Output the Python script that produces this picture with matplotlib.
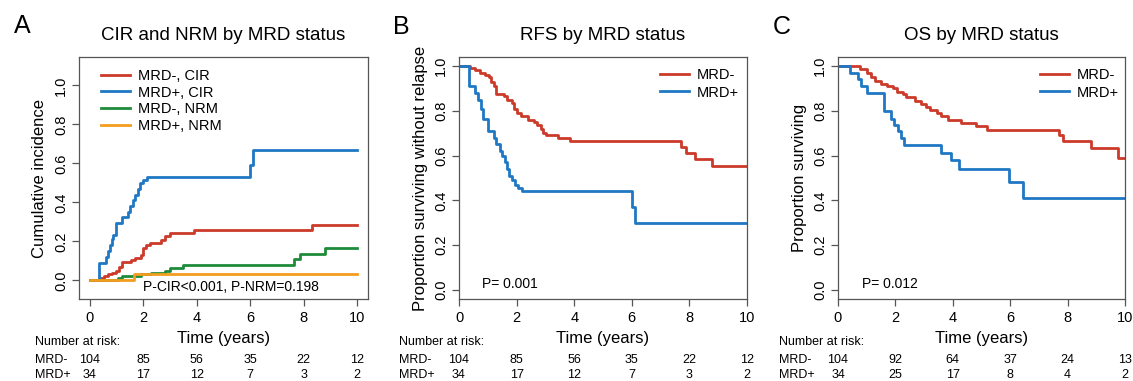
import numpy as np
import matplotlib
matplotlib.use("Agg")
import matplotlib.pyplot as plt
import matplotlib.transforms as mtransforms

plt.rcParams['font.family'] = ['Liberation Sans', 'DejaVu Sans']

# --- data ---
years = [0, 2, 4, 6, 8, 10]

# panel A: cumulative incidence
cir_neg_t = [0, 0.38, 0.55, 0.7, 0.85, 1.0, 1.1, 1.2, 1.55, 1.7, 1.9, 2.0, 2.1, 2.25, 2.65, 2.8, 3.0, 3.9, 8.3, 10]
cir_neg_y = [0, 0.01, 0.02, 0.03, 0.04, 0.05, 0.07, 0.095, 0.105, 0.115, 0.13, 0.165, 0.18, 0.19, 0.205, 0.225, 0.245, 0.26, 0.285, 0.285]
cir_pos_t = [0, 0.34, 0.6, 0.69, 0.75, 0.82, 0.88, 1.0, 1.2, 1.43, 1.52, 1.6, 1.7, 1.79, 1.88, 1.98, 2.15, 6.0, 6.12, 10]
cir_pos_y = [0, 0.09, 0.12, 0.15, 0.18, 0.21, 0.235, 0.295, 0.323, 0.35, 0.38, 0.41, 0.44, 0.47, 0.50, 0.515, 0.53, 0.59, 0.667, 0.667]
nrm_neg_t = [0, 1.05, 1.2, 1.9, 2.3, 2.8, 3.0, 3.5, 7.65, 7.85, 8.8, 10]
nrm_neg_y = [0, 0.01, 0.02, 0.03, 0.04, 0.05, 0.065, 0.077, 0.107, 0.135, 0.165, 0.165]
nrm_pos_t = [0, 1.65, 10]
nrm_pos_y = [0, 0.03, 0.03]

# panel B: relapse-free survival
rfs_neg_t = [0, 0.38, 0.55, 0.72, 0.9, 1.03, 1.12, 1.2, 1.27, 1.55, 1.68, 1.85, 1.92, 2.0, 2.15, 2.4, 2.6,
             2.72, 2.85, 2.92, 3.02, 3.45, 3.85, 7.7, 7.88, 8.2, 8.8, 10]
rfs_neg_s = [1, 0.99, 0.98, 0.97, 0.96, 0.95, 0.93, 0.91, 0.875, 0.865, 0.85, 0.835, 0.81, 0.79, 0.775, 0.76, 0.75,
             0.735, 0.72, 0.70, 0.69, 0.678, 0.665, 0.64, 0.61, 0.585, 0.553, 0.553]
rfs_pos_t = [0, 0.33, 0.55, 0.65, 0.75, 0.85, 1.0, 1.2, 1.3, 1.42, 1.5, 1.58, 1.66, 1.75, 1.85, 1.95, 2.05, 2.18, 6.0, 6.1, 10]
rfs_pos_s = [1, 0.91, 0.88, 0.85, 0.81, 0.765, 0.71, 0.68, 0.65, 0.62, 0.60, 0.57, 0.54, 0.51, 0.49, 0.47, 0.455, 0.44, 0.37, 0.30, 0.30]

# panel C: overall survival
os_neg_t = [0, 0.78, 1.0, 1.14, 1.3, 1.5, 1.72, 1.9, 2.07, 2.25, 2.36, 2.7, 2.88, 3.05, 3.2, 3.45, 3.6, 3.85,
            4.3, 4.8, 5.2, 7.7, 7.85, 8.8, 9.75, 10]
os_neg_s = [1, 0.985, 0.97, 0.95, 0.935, 0.92, 0.91, 0.90, 0.885, 0.875, 0.86, 0.845, 0.83, 0.815, 0.805, 0.79, 0.775, 0.76,
            0.745, 0.733, 0.715, 0.69, 0.665, 0.633, 0.588, 0.588]
os_pos_t = [0, 0.42, 0.68, 0.8, 1.0, 1.6, 1.85, 1.95, 2.1, 2.2, 2.3, 3.6, 3.95, 4.2, 5.95, 6.45, 10]
os_pos_s = [1, 0.97, 0.94, 0.91, 0.88, 0.80, 0.765, 0.735, 0.71, 0.68, 0.647, 0.61, 0.58, 0.54, 0.48, 0.41, 0.41]

risk_neg_a = [104, 85, 56, 35, 22, 12]
risk_pos_a = [34, 17, 12, 7, 3, 2]
risk_neg_b = [104, 85, 56, 35, 22, 12]
risk_pos_b = [34, 17, 12, 7, 3, 2]
risk_neg_c = [104, 92, 64, 37, 24, 13]
risk_pos_c = [34, 25, 17, 8, 4, 2]

RED = '#CC3A2A'
BLUE = '#1F78C4'
GREEN = '#1E8B3A'
ORANGE = '#F39C1E'
FRAME = '#555555'
NARROW = ['Liberation Sans Narrow', 'Liberation Sans', 'DejaVu Sans']

W, H = 1133, 381
fig = plt.figure(figsize=(W / 100, H / 100), dpi=100)


def px_axes(left, right, top, bottom):
    return fig.add_axes([left / W, (H - bottom) / H, (right - left) / W, (bottom - top) / H])


def style(ax, ylabel):
    for s in ax.spines.values():
        s.set_color(FRAME)
        s.set_linewidth(0.9)
    ax.set_xticks(years)
    ax.set_yticks([0, 0.2, 0.4, 0.6, 0.8, 1.0])
    ax.set_yticklabels(['0.0', '0.2', '0.4', '0.6', '0.8', '1.0'], rotation=90, va='center')
    ax.tick_params(direction='out', length=5, width=0.9, color=FRAME, labelsize=10.5, pad=4)
    ax.tick_params(axis='y', pad=3)
    ax.text(-0.135, 0.5, ylabel, transform=ax.transAxes, rotation=90,
            ha='center', va='center', fontsize=12)


def risk_table(ax, x0, neg, pos):
    trans = mtransforms.blended_transform_factory(ax.transData, fig.transFigure)
    fig.text(x0 / W, 1 - 342 / H, 'Number at risk:', fontsize=9, va='center', family=NARROW)
    fig.text(x0 / W, 1 - 360 / H, 'MRD-', fontsize=9, va='center', family=NARROW)
    fig.text(x0 / W, 1 - 375 / H, 'MRD+', fontsize=9, va='center', family=NARROW)
    for yr, a, b in zip(years, neg, pos):
        ax.text(yr, 1 - 360 / H, str(a), transform=trans, fontsize=9, ha='center', va='center', family=NARROW)
        ax.text(yr, 1 - 375 / H, str(b), transform=trans, fontsize=9, ha='center', va='center', family=NARROW)
    ax.text(0.5, 1 - 338 / H, 'Time (years)', transform=mtransforms.blended_transform_factory(ax.transAxes, fig.transFigure),
            fontsize=12, ha='center', va='center')


lw = 2.0

# Panel A
axA = px_axes(79, 368, 57, 299)
axA.step(cir_neg_t, cir_neg_y, where='post', color=RED, lw=lw, label='MRD-, CIR')
axA.step(cir_pos_t, cir_pos_y, where='post', color=BLUE, lw=lw, label='MRD+, CIR')
axA.step(nrm_neg_t, nrm_neg_y, where='post', color=GREEN, lw=lw, label='MRD-, NRM')
axA.step(nrm_pos_t, nrm_pos_y, where='post', color=ORANGE, lw=lw, label='MRD+, NRM')
axA.set_xlim(-0.4, 10.4)
axA.set_ylim(-0.096, 1.146)
style(axA, 'Cumulative incidence')
axA.text(0.5, 1.087, 'CIR and NRM by MRD status', transform=axA.transAxes, ha='center', va='center', fontsize=13.5)
axA.text(2.0, -0.036, 'P-CIR<0.001, P-NRM=0.198', fontsize=10, va='center')
axA.legend(loc='upper left', bbox_to_anchor=(0.076, 0.952), frameon=False, fontsize=10.5,
           handlelength=2.0, handletextpad=0.55, labelspacing=0.2, borderpad=0, borderaxespad=0)
risk_table(axA, 35, risk_neg_a, risk_pos_a)

# Panel B
axB = px_axes(459, 747, 57, 299)
axB.step(rfs_neg_t, rfs_neg_s, where='post', color=RED, lw=lw, label='MRD-')
axB.step(rfs_pos_t, rfs_pos_s, where='post', color=BLUE, lw=lw, label='MRD+')
axB.set_xlim(0, 10)
axB.set_ylim(-0.04, 1.04)
style(axB, 'Proportion surviving without relapse')
axB.text(0.5, 1.087, 'RFS by MRD status', transform=axB.transAxes, ha='center', va='center', fontsize=13.5)
axB.text(0.8, 0.027, 'P= 0.001', fontsize=10, va='center')
axB.legend(loc='upper left', bbox_to_anchor=(0.698, 0.955), frameon=False, fontsize=10.5,
           handlelength=2.0, handletextpad=0.55, labelspacing=0.25, borderpad=0, borderaxespad=0)
risk_table(axB, 399, risk_neg_b, risk_pos_b)

# Panel C
axC = px_axes(838, 1125, 57, 299)
axC.step(os_neg_t, os_neg_s, where='post', color=RED, lw=lw, label='MRD-')
axC.step(os_pos_t, os_pos_s, where='post', color=BLUE, lw=lw, label='MRD+')
axC.set_xlim(0, 10)
axC.set_ylim(-0.04, 1.04)
style(axC, 'Proportion surviving')
axC.text(0.5, 1.087, 'OS by MRD status', transform=axC.transAxes, ha='center', va='center', fontsize=13.5)
axC.text(0.84, 0.027, 'P= 0.012', fontsize=10, va='center')
axC.legend(loc='upper left', bbox_to_anchor=(0.704, 0.955), frameon=False, fontsize=10.5,
           handlelength=2.0, handletextpad=0.55, labelspacing=0.25, borderpad=0, borderaxespad=0)
risk_table(axC, 779, risk_neg_c, risk_pos_c)

# panel letters
fig.text(22 / W, 1 - 26 / H, 'A', fontsize=18, ha='center', va='center')
fig.text(401 / W, 1 - 27 / H, 'B', fontsize=18, ha='center', va='center')
fig.text(782 / W, 1 - 27 / H, 'C', fontsize=18, ha='center', va='center')

fig.savefig('out.png', dpi=100)
